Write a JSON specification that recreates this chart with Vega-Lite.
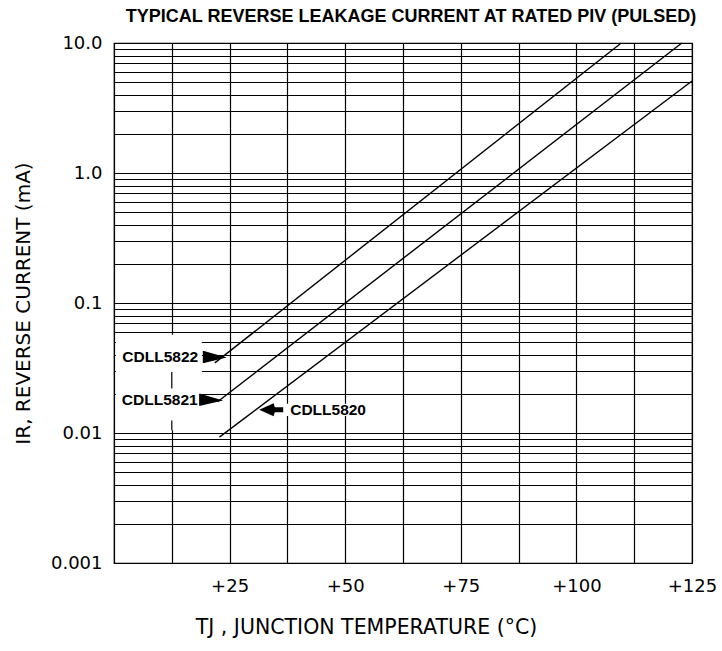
{
  "$schema": "https://vega.github.io/schema/vega-lite/v6.json",
  "width": 578,
  "height": 520,
  "autosize": {"type": "none"},
  "padding": {"left": 114, "top": 43, "right": 30, "bottom": 88},
  "background": "white",
  "title": {
    "text": "TYPICAL REVERSE LEAKAGE CURRENT AT RATED PIV (PULSED)",
    "font": "Liberation Sans",
    "fontSize": 18,
    "fontWeight": "bold",
    "color": "#000",
    "anchor": "middle",
    "offset": 8,
    "dx": 8
  },
  "config": {
    "view": {"stroke": "#000", "strokeWidth": 1.2},
    "font": "Liberation Sans"
  },
  "datasets": {
    "curves": [
      {"device": "CDLL5822", "t": 21.8, "ir": 0.0346},
      {"device": "CDLL5822", "t": 109.7, "ir": 10},
      {"device": "CDLL5821", "t": 22.4, "ir": 0.0174},
      {"device": "CDLL5821", "t": 122.8, "ir": 10},
      {"device": "CDLL5820", "t": 22.8, "ir": 0.0093},
      {"device": "CDLL5820", "t": 125, "ir": 5.1}
    ],
    "labels": [
      {"device": "CDLL5822", "t": 10, "ir": 0.0385, "at": 21.8, "air": 0.0385, "dir": "right"},
      {"device": "CDLL5821", "t": 9.9, "ir": 0.018, "at": 21, "air": 0.018, "dir": "right"},
      {"device": "CDLL5820", "t": 46.3, "ir": 0.0151, "at": 34, "air": 0.0151, "dir": "left"}
    ],
    "masks": [
      {"t0": 0.4, "t1": 19, "ir0": 0.0105, "ir1": 0.057},
      {"t0": 30.5, "t1": 55.5, "ir0": 0.0135, "ir1": 0.0168}
    ],
    "gridbits": [
      {"t": 12.5, "ir0": 0.022, "ir1": 0.0295},
      {"t": 12.5, "ir0": 0.0105, "ir1": 0.0125}
    ]
  },
  "layer": [
    {
      "data": {"name": "masks"},
      "mark": {"type": "rect", "fill": "white", "stroke": null},
      "encoding": {
        "x": {
          "field": "t0",
          "type": "quantitative",
          "scale": {"domain": [0, 125], "nice": false, "zero": false},
          "axis": {
            "title": "TJ , JUNCTION TEMPERATURE (°C)",
            "titleFont": "DejaVu Sans",
            "titleFontSize": 20.5,
            "titleFontWeight": "normal",
            "titleColor": "#000",
            "titlePadding": 22,
            "titleX": 252,
            "titleAnchor": "middle",
            "values": [0, 12.5, 25, 37.5, 50, 62.5, 75, 87.5, 100, 112.5, 125],
            "labelExpr": "datum.value > 0 && datum.value % 25 == 0 ? '+' + datum.value : ''",
            "labelFont": "DejaVu Sans",
            "labelFontSize": 18,
            "labelColor": "#000",
            "labelPadding": 14,
            "labelFlush": false,
            "labelOverlap": false,
            "ticks": false,
            "domain": false,
            "grid": true,
            "gridColor": "#000",
            "gridWidth": 1.2,
            "gridOpacity": 1
          }
        },
        "x2": {"field": "t1"},
        "y": {
          "field": "ir0",
          "type": "quantitative",
          "scale": {"type": "log", "domain": [0.001, 10], "nice": false},
          "axis": {
            "title": "IR, REVERSE CURRENT (mA)",
            "titleFont": "DejaVu Sans",
            "titleFontSize": 20,
            "titleFontWeight": "normal",
            "titleColor": "#000",
            "titlePadding": 17,
            "values": [0.001, 0.002, 0.003, 0.004, 0.005, 0.006, 0.007, 0.008, 0.009,
                       0.01, 0.02, 0.03, 0.04, 0.05, 0.06, 0.07, 0.08, 0.09,
                       0.1, 0.2, 0.3, 0.4, 0.5, 0.6, 0.7, 0.8, 0.9,
                       1, 2, 3, 4, 5, 6, 7, 8, 9, 10],
            "labelExpr": "datum.value == 10 ? '10.0' : datum.value == 1 ? '1.0' : datum.value == 0.1 ? '0.1' : datum.value == 0.01 ? '0.01' : datum.value == 0.001 ? '0.001' : ''",
            "labelFont": "DejaVu Sans",
            "labelFontSize": 18,
            "labelColor": "#000",
            "labelPadding": 12,
            "labelFlush": false,
            "labelOverlap": false,
            "ticks": false,
            "domain": false,
            "grid": true,
            "gridColor": "#000",
            "gridWidth": 1,
            "gridOpacity": 1
          }
        },
        "y2": {"field": "ir1"}
      }
    },
    {
      "data": {"name": "gridbits"},
      "mark": {"type": "rule", "color": "#000", "strokeWidth": 1.2},
      "encoding": {
        "x": {"field": "t", "type": "quantitative"},
        "y": {"field": "ir0", "type": "quantitative"},
        "y2": {"field": "ir1"}
      }
    },
    {
      "data": {"name": "curves"},
      "mark": {"type": "line", "color": "#000", "strokeWidth": 1.4},
      "encoding": {
        "x": {"field": "t", "type": "quantitative"},
        "y": {"field": "ir", "type": "quantitative"},
        "detail": {"field": "device", "type": "nominal"}
      }
    },
    {
      "data": {"name": "labels"},
      "transform": [{"filter": "datum.dir == 'right'"}],
      "mark": {
        "type": "point",
        "shape": "M1,0.05 L-0.9,-0.5 L-1,-0.5 L-1,0.5 L-0.9,0.5 Z",
        "size": 576,
        "filled": true,
        "color": "#000",
        "opacity": 1
      },
      "encoding": {
        "x": {"field": "at", "type": "quantitative"},
        "y": {"field": "air", "type": "quantitative"}
      }
    },
    {
      "data": {"name": "labels"},
      "transform": [{"filter": "datum.dir == 'left'"}],
      "mark": {
        "type": "point",
        "shape": "M-1,0 L0.2,-0.55 L0.3,-0.2 L1,-0.2 L1,0.2 L0.3,0.2 L0.2,0.55 Z",
        "size": 576,
        "filled": true,
        "color": "#000",
        "opacity": 1
      },
      "encoding": {
        "x": {"field": "at", "type": "quantitative"},
        "y": {"field": "air", "type": "quantitative"}
      }
    },
    {
      "data": {"name": "labels"},
      "mark": {
        "type": "text",
        "font": "Liberation Sans",
        "fontSize": 15.5,
        "fontWeight": "bold",
        "color": "#000",
        "align": "center",
        "baseline": "middle"
      },
      "encoding": {
        "x": {"field": "t", "type": "quantitative"},
        "y": {"field": "ir", "type": "quantitative"},
        "text": {"field": "device", "type": "nominal"}
      }
    }
  ]
}
